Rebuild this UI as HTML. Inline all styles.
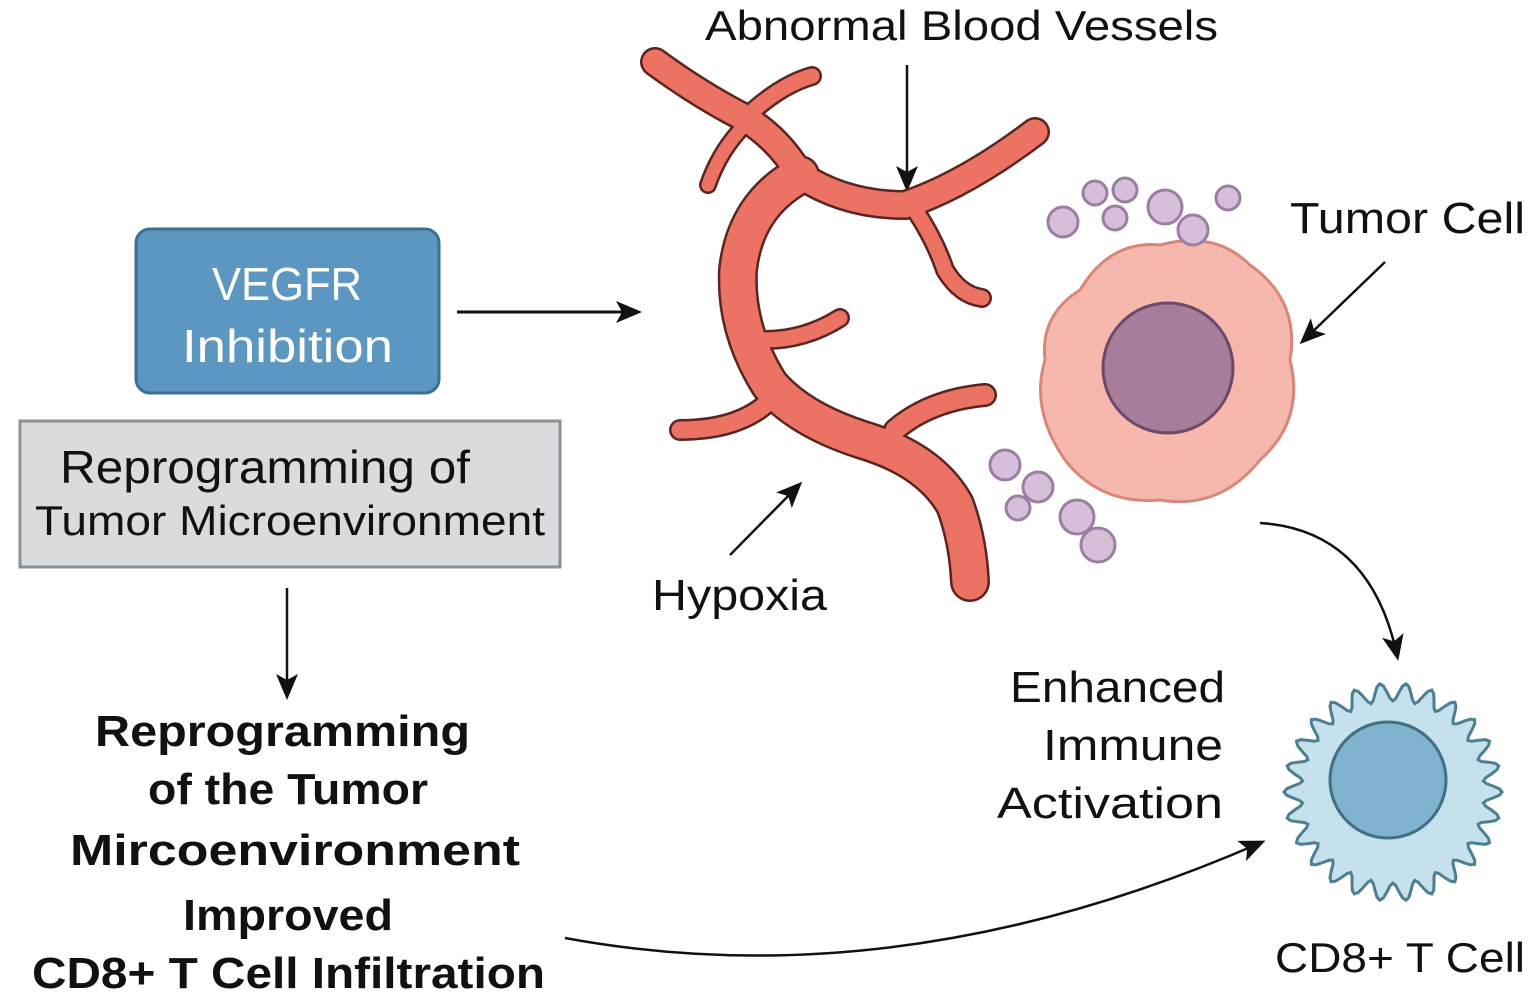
<!DOCTYPE html><html><head><style>body{margin:0;background:#fff}svg{display:block}text{font-family:"Liberation Sans","DejaVu Sans",sans-serif}</style></head><body>
<svg width="1535" height="1006" viewBox="0 0 1535 1006" xmlns="http://www.w3.org/2000/svg">
<defs><marker id="b" markerWidth="26" markerHeight="26" refX="20" refY="13" orient="auto" markerUnits="userSpaceOnUse" viewBox="0 0 26 26"><path d="M0,2L26,13L0,24L6,13z" fill="#111"/></marker></defs>
<rect x="136" y="229" width="303" height="164" rx="14" fill="#5b97c1" stroke="#3d6f92" stroke-width="3"/>
<text x="212" y="300" font-size="46" fill="#fff" textLength="150" lengthAdjust="spacingAndGlyphs">VEGFR</text>
<text x="182" y="362" font-size="46" fill="#fff" textLength="211" lengthAdjust="spacingAndGlyphs">Inhibition</text>
<rect x="20" y="421" width="540" height="146" fill="#d9dcde" stroke="#8a9096" stroke-width="3"/>
<text x="60" y="483" font-size="46" fill="#111" textLength="410" lengthAdjust="spacingAndGlyphs">Reprogramming of</text>
<text x="35" y="535" font-size="42" fill="#111" textLength="510" lengthAdjust="spacingAndGlyphs">Tumor Microenvironment</text>
<line x1="457" y1="312" x2="636" y2="312" stroke="#111" stroke-width="3" marker-end="url(#b)"/>
<line x1="287" y1="588" x2="287" y2="694" stroke="#111" stroke-width="2.5" marker-end="url(#b)"/>
<g font-size="44" font-weight="bold" fill="#111">
<text x="95" y="746" textLength="375" lengthAdjust="spacingAndGlyphs">Reprogramming</text><text x="148" y="804" textLength="280" lengthAdjust="spacingAndGlyphs">of the Tumor</text><text x="70" y="865" textLength="450" lengthAdjust="spacingAndGlyphs">Mircoenvironment</text><text x="183" y="930" textLength="210" lengthAdjust="spacingAndGlyphs">Improved</text><text x="32" y="988" textLength="513" lengthAdjust="spacingAndGlyphs">CD8+ T Cell Infiltration</text></g>
<path d="M565,938 Q900,1000 1260,843" fill="none" stroke="#111" stroke-width="2.5" marker-end="url(#b)"/>
<path d="M1260,523 Q1370,530 1397,655" fill="none" stroke="#111" stroke-width="2.5" marker-end="url(#b)"/>
<text x="705" y="40" font-size="42" fill="#111" textLength="513" lengthAdjust="spacingAndGlyphs">Abnormal Blood Vessels</text>
<line x1="907" y1="65" x2="907" y2="186" stroke="#111" stroke-width="2.5" marker-end="url(#b)"/>
<text x="1290" y="233" font-size="44" fill="#111" textLength="235" lengthAdjust="spacingAndGlyphs">Tumor Cell</text>
<line x1="1385" y1="262" x2="1304" y2="340" stroke="#111" stroke-width="2.5" marker-end="url(#b)"/>
<text x="652" y="610" font-size="44" fill="#111" textLength="175" lengthAdjust="spacingAndGlyphs">Hypoxia</text>
<line x1="730" y1="555" x2="798" y2="486" stroke="#111" stroke-width="2.5" marker-end="url(#b)"/>
<g font-size="44" fill="#111"><text x="1010" y="702" textLength="215" lengthAdjust="spacingAndGlyphs">Enhanced</text><text x="1043" y="760" textLength="180" lengthAdjust="spacingAndGlyphs">Immune</text><text x="997" y="818" textLength="226" lengthAdjust="spacingAndGlyphs">Activation</text></g>
<text x="1275" y="972" font-size="42" fill="#111" textLength="250" lengthAdjust="spacingAndGlyphs">CD8+ T Cell</text>
<g fill="none" stroke-linecap="round" stroke-linejoin="round">
<g stroke="#5a2420">
<path d="M655,62 Q700,95 745,118 Q780,140 800,175 Q845,205 905,205 Q965,185 1035,132" stroke-width="30"/>
<path d="M745,118 Q780,85 812,76" stroke-width="20"/>
<path d="M745,125 Q720,150 708,185" stroke-width="18"/>
<path d="M915,210 Q935,240 945,270 Q960,295 982,298" stroke-width="20"/>
<path d="M800,175 Q745,205 738,270 Q735,330 770,385 Q800,420 863,440 Q930,460 955,505 Q968,540 970,582" stroke-width="40"/>
<path d="M765,340 Q805,340 840,318" stroke-width="20"/>
<path d="M765,405 Q735,430 680,430" stroke-width="22"/>
<path d="M895,430 Q930,400 985,395" stroke-width="24"/>
</g>
<g stroke="#ec7364">
<path d="M655,62 Q700,95 745,118 Q780,140 800,175 Q845,205 905,205 Q965,185 1035,132" stroke-width="25"/>
<path d="M745,118 Q780,85 812,76" stroke-width="15"/>
<path d="M745,125 Q720,150 708,185" stroke-width="13"/>
<path d="M915,210 Q935,240 945,270 Q960,295 982,298" stroke-width="15"/>
<path d="M800,175 Q745,205 738,270 Q735,330 770,385 Q800,420 863,440 Q930,460 955,505 Q968,540 970,582" stroke-width="35"/>
<path d="M765,340 Q805,340 840,318" stroke-width="15"/>
<path d="M765,405 Q735,430 680,430" stroke-width="17"/>
<path d="M895,430 Q930,400 985,395" stroke-width="19"/>
</g></g>
<path d="M1080,290 Q1110,240 1160,245 Q1215,230 1250,265 Q1300,300 1290,360 Q1305,420 1260,460 Q1220,510 1160,500 Q1100,505 1065,460 Q1030,410 1045,360 Q1040,315 1080,290z" fill="#f6b8ad" stroke="#d9867a" stroke-width="3"/>
<circle cx="1168" cy="368" r="65" fill="#a87d9c" stroke="#6e4a66" stroke-width="3"/>
<g fill="#d6bfd9" stroke="#9d7ea3" stroke-width="3">
<circle cx="1063" cy="222" r="15"/><circle cx="1095" cy="193" r="12"/><circle cx="1125" cy="190" r="12"/><circle cx="1115" cy="218" r="12"/><circle cx="1165" cy="207" r="17"/><circle cx="1193" cy="230" r="15"/><circle cx="1228" cy="198" r="12"/>
<circle cx="1005" cy="465" r="15"/><circle cx="1038" cy="487" r="15"/><circle cx="1018" cy="508" r="12"/><circle cx="1077" cy="517" r="17"/><circle cx="1098" cy="545" r="17"/></g>
<path id="tc" fill="#c6e1ee" stroke="#4d7f8f" stroke-width="3" d=""/>
<circle cx="1388" cy="780" r="58" fill="#7fb2cc" stroke="#3f6f80" stroke-width="3"/>
<script>
(function(){var cx=1393,cy=792,n=26,s="";for(var i=0;i<=n*8;i++){var t=i/(n*8)*Math.PI*2;var r=100+9*Math.cos(t*n);s+=(i?"L":"M")+(cx+r*Math.cos(t)).toFixed(1)+","+(cy+r*Math.sin(t)).toFixed(1);}document.getElementById("tc").setAttribute("d",s+"Z");})();
</script>
</svg></body></html>
